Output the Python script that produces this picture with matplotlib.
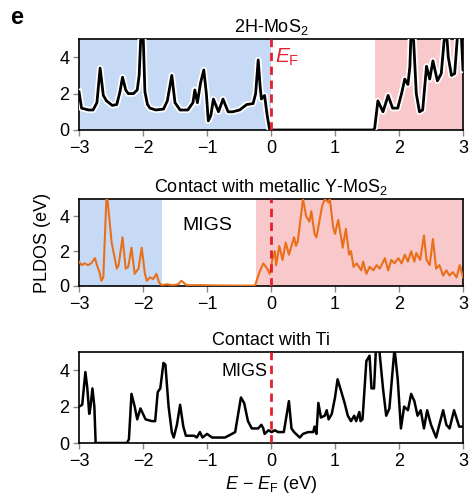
import matplotlib
matplotlib.use("Agg")
import matplotlib.pyplot as plt
import matplotlib.patheffects as pe

plt.rcParams['font.family'] = ['Liberation Sans', 'DejaVu Sans']
plt.rcParams['mathtext.fontset'] = 'custom'
plt.rcParams['mathtext.rm'] = 'Liberation Sans'
plt.rcParams['mathtext.it'] = 'Liberation Sans:italic'

# ---------------- data ----------------
titles = ["2H-MoS$_2$", "Contact with metallic Y-MoS$_2$", "Contact with Ti"]
x_ticks = [-3, -2, -1, 0, 1, 2, 3]
x_ticklabels = ["\u22123", "\u22122", "\u22121", "0", "1", "2", "3"]
y_ticks = [0, 2, 4]

# 2H-MoS2 PLDOS
e_mos2 = [-3.0, -2.96, -2.85, -2.78, -2.72, -2.67, -2.62, -2.57, -2.48, -2.41, -2.36, -2.32,
          -2.27, -2.23, -2.15, -2.09, -2.06, -2.03, -2.0, -1.97, -1.93, -1.89, -1.8, -1.68,
          -1.62, -1.55, -1.5, -1.42, -1.3, -1.22, -1.19, -1.15, -1.1, -1.05, -1.01, -0.98,
          -0.94, -0.9, -0.82, -0.75, -0.67, -0.6, -0.49, -0.38, -0.28, -0.24, -0.2, -0.17,
          -0.15, -0.1, -0.06, -0.02, 0.0, 0.5, 1.0, 1.6, 1.62, 1.67, 1.75, 1.83, 1.9, 1.98,
          2.04, 2.09, 2.14, 2.17, 2.19, 2.22, 2.27, 2.32, 2.37, 2.43, 2.48, 2.53, 2.6, 2.66,
          2.72, 2.74, 2.77, 2.82, 2.87, 2.92, 2.95, 2.97, 3.0]
d_mos2 = [2.1, 1.2, 1.1, 1.1, 1.5, 3.4, 1.9, 1.6, 1.35, 1.4, 2.1, 2.9,
          2.2, 2.0, 2.0, 2.2, 3.0, 5.5, 5.5, 2.1, 1.4, 1.2, 1.1, 1.15,
          1.6, 3.0, 1.5, 1.1, 1.1, 1.5, 2.2, 1.5, 2.6, 3.3, 2.0, 0.5,
          0.8, 1.7, 1.0, 1.7, 1.0, 1.0, 1.1, 1.4, 1.45, 2.0, 3.85, 2.4,
          1.7, 1.9, 0.8, 0.0, 0.0, 0.0, 0.0, 0.0, 0.1, 1.6, 1.0, 1.9, 1.2, 1.2,
          2.0, 2.8, 2.5, 3.5, 5.5, 5.5, 2.0, 1.0, 1.1, 3.5, 2.8, 3.8, 2.7, 3.1,
          5.5, 5.5, 4.0, 3.0, 3.1, 5.5, 5.5, 5.5, 3.3]

# Contact with metallic Y-MoS2 PLDOS
e_y = [-3.0, -2.96, -2.91, -2.86, -2.81, -2.75, -2.72, -2.68, -2.65, -2.62, -2.57, -2.55,
       -2.49, -2.41, -2.38, -2.32, -2.27, -2.23, -2.18, -2.13, -2.07, -2.02, -1.97, -1.94,
       -1.89, -1.84, -1.79, -1.75, -1.71, -1.63, -1.53, -1.45, -1.4, -1.32, -1.1, -0.8,
       -0.5, -0.25, -0.18, -0.12, -0.06, -0.02, 0.02, 0.06, 0.08, 0.13, 0.18, 0.23, 0.28,
       0.36, 0.39, 0.42, 0.45, 0.5, 0.55, 0.6, 0.63, 0.68, 0.71, 0.8, 0.84, 0.9, 0.92,
       0.97, 1.0, 1.05, 1.1, 1.12, 1.17, 1.22, 1.25, 1.29, 1.34, 1.41, 1.44, 1.49, 1.54,
       1.6, 1.65, 1.7, 1.78, 1.83, 1.88, 1.93, 1.99, 2.04, 2.09, 2.14, 2.19, 2.24, 2.27,
       2.33, 2.39, 2.43, 2.48, 2.53, 2.58, 2.63, 2.69, 2.74, 2.79, 2.84, 2.9, 2.95, 3.0]
d_y = [1.4, 1.2, 1.3, 1.2, 1.3, 1.6, 1.2, 0.8, 0.3, 0.5, 5.2, 4.8,
       2.5, 1.0, 1.2, 2.8, 1.0, 1.1, 2.2, 0.7, 1.0, 2.2, 0.7, 0.3,
       0.5, 0.4, 0.7, 0.2, 0.05, 0.1, 0.05, 0.1, 0.3, 0.05, 0.05, 0.03,
       0.02, 0.02, 0.8, 1.3, 1.0, 0.7, 1.5, 2.0, 1.2, 2.3, 1.5, 2.5, 1.8,
       2.8, 2.3, 2.6, 3.5, 5.0, 4.0, 3.7, 4.3, 3.0, 2.8, 4.6, 5.0, 4.8, 5.0,
       3.4, 3.0, 3.8, 2.7, 2.2, 3.3, 1.8, 2.0, 1.1, 1.3, 0.9, 1.4, 0.7, 1.1,
       0.9, 1.2, 1.0, 1.6, 0.9, 1.5, 1.3, 1.6, 1.3, 1.8, 1.4, 2.0, 1.4, 1.9,
       1.5, 2.9, 1.5, 1.2, 2.7, 1.0, 1.2, 0.6, 0.9, 0.6, 0.8, 0.5, 1.2, 0.5]

# Contact with Ti PLDOS
e_ti = [-3.0, -2.95, -2.9, -2.87, -2.84, -2.82, -2.79, -2.76, -2.74, -2.5, -2.25, -2.22,
        -2.18, -2.13, -2.09, -2.04, -1.96, -1.86, -1.81, -1.77, -1.73, -1.68, -1.65, -1.6,
        -1.55, -1.52, -1.47, -1.42, -1.37, -1.33, -1.2, -1.16, -1.11, -1.07, -1.0, -0.92,
        -0.72, -0.61, -0.56, -0.47, -0.42, -0.36, -0.3, -0.2, -0.15, -0.12, -0.1, -0.04,
        0.01, 0.06, 0.11, 0.2, 0.28, 0.32, 0.36, 0.45, 0.5, 0.58, 0.66, 0.68, 0.71, 0.74,
        0.78, 0.84, 0.87, 0.9, 0.95, 1.0, 1.04, 1.1, 1.15, 1.2, 1.25, 1.3, 1.33, 1.38, 1.4,
        1.43, 1.49, 1.54, 1.57, 1.61, 1.64, 1.69, 1.75, 1.8, 1.85, 1.93, 1.98, 2.03, 2.08,
        2.14, 2.19, 2.24, 2.29, 2.34, 2.39, 2.44, 2.5, 2.58, 2.63, 2.69, 2.74, 2.79, 2.86,
        2.94, 3.0]
d_ti = [2.0, 2.1, 3.9, 3.0, 1.6, 2.0, 3.0, 2.0, 0.0, 0.0, 0.0, 0.2,
        2.7, 2.0, 1.3, 1.9, 1.3, 1.2, 1.2, 2.8, 3.0, 4.4, 4.3, 2.0,
        0.6, 0.3, 1.0, 2.1, 0.9, 0.4, 0.4, 0.3, 0.6, 0.3, 0.5, 0.3,
        0.3, 0.5, 0.6, 2.5, 2.2, 1.2, 0.8, 0.8, 1.0, 0.8, 0.5, 0.7,
        0.6, 0.7, 0.6, 0.6, 2.3, 0.8, 0.6, 0.3, 0.5, 0.6, 0.6, 0.9, 0.5, 2.2,
        1.4, 1.5, 1.8, 1.3, 1.6, 2.5, 3.5, 2.8, 2.2, 1.5, 1.2, 1.5, 1.2, 1.7, 1.2,
        1.3, 4.5, 4.8, 3.0, 3.0, 5.2, 5.2, 3.0, 1.5, 1.9, 5.2, 3.5, 0.8, 2.0,
        1.8, 2.7, 2.3, 1.5, 1.8, 0.8, 1.8, 1.0, 0.3, 1.0, 1.8, 1.0, 0.8, 1.8,
        0.9, 0.9]

# shaded regions (valence / conduction)
blue_spans = [(-3.0, 0.0), (-3.0, -1.71), None]
pink_spans = [(1.62, 3.0), (-0.24, 3.0), None]

# ---------------- style ----------------
BLUE = "#c6daf6"
PINK = "#f9c8ca"
RED = "#e3202b"
ORANGE = "#e8701a"
FS = 13

fig = plt.figure(figsize=(4.74, 5.04), dpi=100)
left, width = 79 / 474, 384 / 474
rows = [(39, 130), (199, 286), (352, 443)]
axes = []
for top, bot in rows:
    ax = fig.add_axes([left, 1 - bot / 504, width, (bot - top) / 504])
    axes.append(ax)

series = [(e_mos2, d_mos2, "black"), (e_y, d_y, ORANGE), (e_ti, d_ti, "black")]

for i, ax in enumerate(axes):
    e, d, c = series[i]
    if blue_spans[i]:
        ax.axvspan(*blue_spans[i], color=BLUE, lw=0, zorder=0)
    if pink_spans[i]:
        ax.axvspan(*pink_spans[i], color=PINK, lw=0, zorder=0)
    if i == 0:
        ax.plot(e, d, color=c, lw=2.0, zorder=3, solid_joinstyle="round",
                path_effects=[pe.Stroke(linewidth=4.5, foreground="white"), pe.Normal()])
    elif i == 1:
        ax.plot(e, d, color=c, lw=1.5, zorder=3, solid_joinstyle="round")
    else:
        ax.plot(e, d, color=c, lw=1.8, zorder=3, solid_joinstyle="round")
    ax.axvline(0, color=RED, lw=2.0, ls=(0, (3, 2)), zorder=4)
    ax.set_xlim(-3, 3)
    ax.set_ylim(0, 5)
    ax.set_xticks(x_ticks)
    ax.set_xticklabels(x_ticklabels, fontsize=FS)
    ax.set_yticks(y_ticks)
    ax.set_yticklabels([str(t) for t in y_ticks], fontsize=FS)
    ax.tick_params(direction="out", length=4, width=1, color="#888888", pad=3)
    for s in ax.spines.values():
        s.set_linewidth(1.2)
        s.set_color("black")
    ax.set_title(titles[i], fontsize=FS, pad=5)

axes[0].text(0.06, 4.0, r"$\mathit{E}_\mathrm{F}$", color=RED, fontsize=FS + 2,
             ha="left", va="center", zorder=5)
axes[1].text(-0.99, 3.45, "MIGS", fontsize=FS + 1, ha="center", va="center")
axes[2].text(-0.06, 3.95, "MIGS", fontsize=FS, ha="right", va="center")

axes[1].set_ylabel("PLDOS (eV)", fontsize=FS, labelpad=6)
axes[2].set_xlabel("$\\mathit{E}$ \u2212 $\\mathit{E}_\\mathrm{F}$ (eV)",
                   fontsize=FS, labelpad=3)

fig.text(10 / 474, 1 - 18 / 504, "e", fontsize=17, fontweight="bold", ha="left", va="center")

fig.savefig("out.png", dpi=100)
